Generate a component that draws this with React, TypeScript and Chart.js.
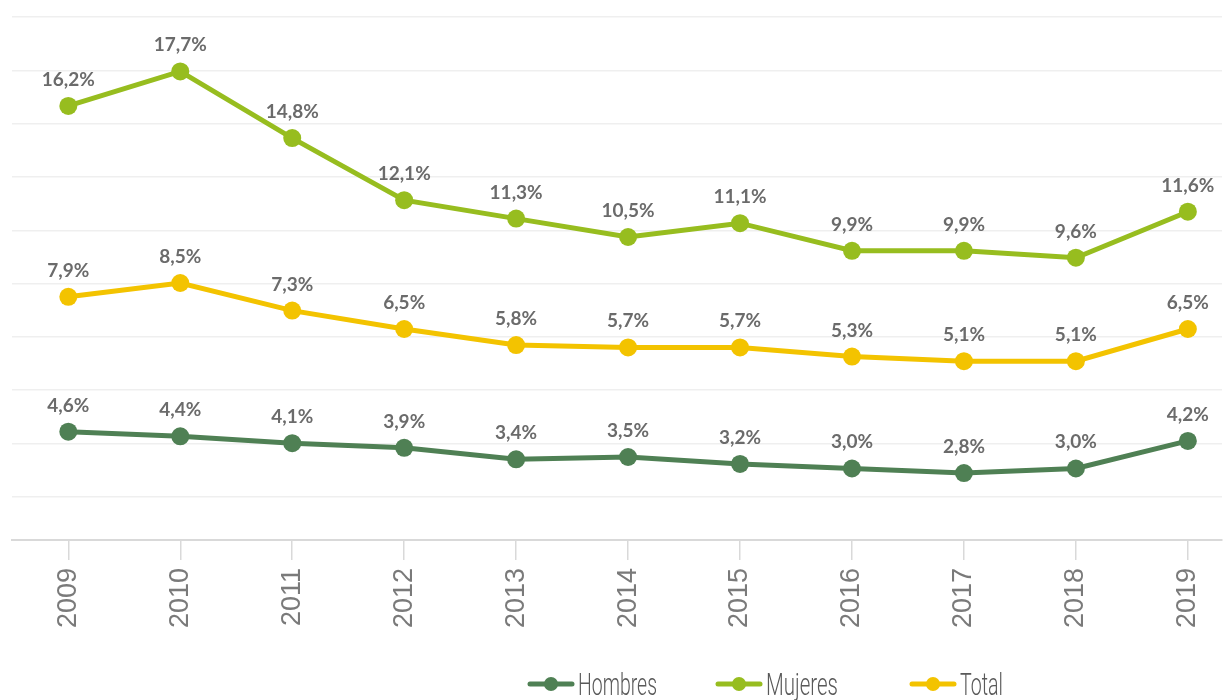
import React, { useEffect, useRef } from "react";
import { Chart, registerables } from "chart.js";

Chart.register(...registerables);

// ---- Data ----
const years = [2009, 2010, 2011, 2012, 2013, 2014, 2015, 2016, 2017, 2018, 2019];
const hombres = [4.6, 4.4, 4.1, 3.9, 3.4, 3.5, 3.2, 3.0, 2.8, 3.0, 4.2];
const mujeres = [16.2, 17.7, 14.8, 12.1, 11.3, 10.5, 11.1, 9.9, 9.9, 9.6, 11.6];
const total = [7.9, 8.5, 7.3, 6.5, 5.8, 5.7, 5.7, 5.3, 5.1, 5.1, 6.5];
const seriesNames = ["Hombres", "Mujeres", "Total"];
const gridTicks = [1, 2, 3, 4, 5, 6, 7, 8, 9, 10];

// ---- Styles ----
const colors = ["#4f8054", "#97bd1f", "#f3c300"];
const legendStarts = [528, 716, 910];
const legendTextWidths = [79, 72, 43];

const fmt = (v: number) => v.toFixed(1).replace(".", ",") + "%";

const valueLabels = {
  id: "valueLabels",
  afterDatasetsDraw(chart: any) {
    const ctx = chart.ctx;
    ctx.save();
    ctx.font = "bold 19px Lato, 'Open Sans', sans-serif";
    ctx.fillStyle = "#6b6b6b";
    ctx.textAlign = "center";
    ctx.textBaseline = "alphabetic";
    chart.data.datasets.forEach((ds: any, i: number) => {
      const meta = chart.getDatasetMeta(i);
      meta.data.forEach((pt: any, j: number) => {
        const v = ds.data[j].y;
        ctx.fillText(fmt(v), pt.x, pt.y - 20);
      });
    });
    ctx.restore();
  },
};

const customLegend = {
  id: "customLegend",
  afterDraw(chart: any) {
    const ctx = chart.ctx;
    const sx = chart.width / 1231;
    const y = 684;
    ctx.save();
    chart.data.datasets.forEach((ds: any, i: number) => {
      const x0 = legendStarts[i] * sx;
      ctx.strokeStyle = ds.borderColor;
      ctx.lineWidth = 5;
      ctx.lineCap = "round";
      ctx.beginPath();
      ctx.moveTo(x0 + 2, y);
      ctx.lineTo(x0 + 44, y);
      ctx.stroke();
      ctx.fillStyle = ds.borderColor;
      ctx.beginPath();
      ctx.arc(x0 + 23, y, 7, 0, Math.PI * 2);
      ctx.fill();
      ctx.fillStyle = "#595959";
      ctx.font = "300 32px Roboto, 'Liberation Sans', sans-serif";
      ctx.textAlign = "left";
      ctx.textBaseline = "alphabetic";
      const w = ctx.measureText(ds.label).width;
      const k = Math.min(1, legendTextWidths[i] / w);
      ctx.save();
      ctx.translate(x0 + 50, y + 11);
      ctx.scale(k, 1);
      ctx.fillText(ds.label, 0, 0);
      ctx.restore();
    });
    ctx.restore();
  },
};

export default function App() {
  const canvasRef = useRef<HTMLCanvasElement | null>(null);

  useEffect(() => {
    if (!canvasRef.current) return;
    const seriesValues = [hombres, mujeres, total];
    const axes = ["y2", "y", "y"];
    const chart = new Chart(canvasRef.current, {
      type: "line",
      data: {
        datasets: seriesNames.map((name, i) => ({
          label: name,
          data: years.map((x, j) => ({ x, y: seriesValues[i][j] })),
          borderColor: colors[i],
          backgroundColor: colors[i],
          borderWidth: 5,
          pointRadius: 9,
          pointHoverRadius: 9,
          pointBorderWidth: 0,
          pointBackgroundColor: colors[i],
          yAxisID: axes[i],
          tension: 0,
          clip: false as any,
        })),
      },
      options: {
        animation: false,
        responsive: true,
        maintainAspectRatio: false,
        devicePixelRatio: 1,
        layout: { padding: { top: 17, left: 12, right: 0, bottom: 0 } },
        plugins: {
          legend: { display: false },
          tooltip: { enabled: false },
        },
        scales: {
          x: {
            type: "linear",
            min: 2008.497,
            max: 2019.305,
            afterBuildTicks: (s: any) => {
              s.ticks = years.map((v) => ({ value: v }));
            },
            ticks: {
              minRotation: 90,
              maxRotation: 90,
              autoSkip: false,
              padding: 8,
              color: "#7a7a7a",
              font: { size: 27, family: "'Liberation Sans', Arial, sans-serif" },
              callback: (v: any) => String(v),
            },
            grid: {
              drawOnChartArea: false,
              drawTicks: true,
              tickLength: 20,
              color: "#d9d9d9",
              lineWidth: 1.5,
            },
            border: { display: true, color: "#d9d9d9", width: 2 },
            afterFit: (s: any) => {
              s.height = 160;
            },
          },
          yg: {
            type: "linear",
            position: "left",
            min: 0.19,
            max: 10,
            afterBuildTicks: (s: any) => {
              s.ticks = gridTicks.map((v) => ({ value: v }));
            },
            ticks: { display: false },
            grid: { color: "#efefef", lineWidth: 1.5, drawTicks: false },
            border: { display: false },
            afterFit: (s: any) => {
              s.width = 0;
            },
          },
          y: { display: false, min: -2.674, max: 20.065 },
          y2: { display: false, min: -0.109, max: 22.63 },
        } as any,
      },
      plugins: [valueLabels, customLegend],
    } as any);
    return () => chart.destroy();
  }, []);

  return (
    <div style={{ position: "absolute", left: 0, top: 0, width: 1231, height: 700, background: "#fff" }}>
      <canvas ref={canvasRef} />
    </div>
  );
}
